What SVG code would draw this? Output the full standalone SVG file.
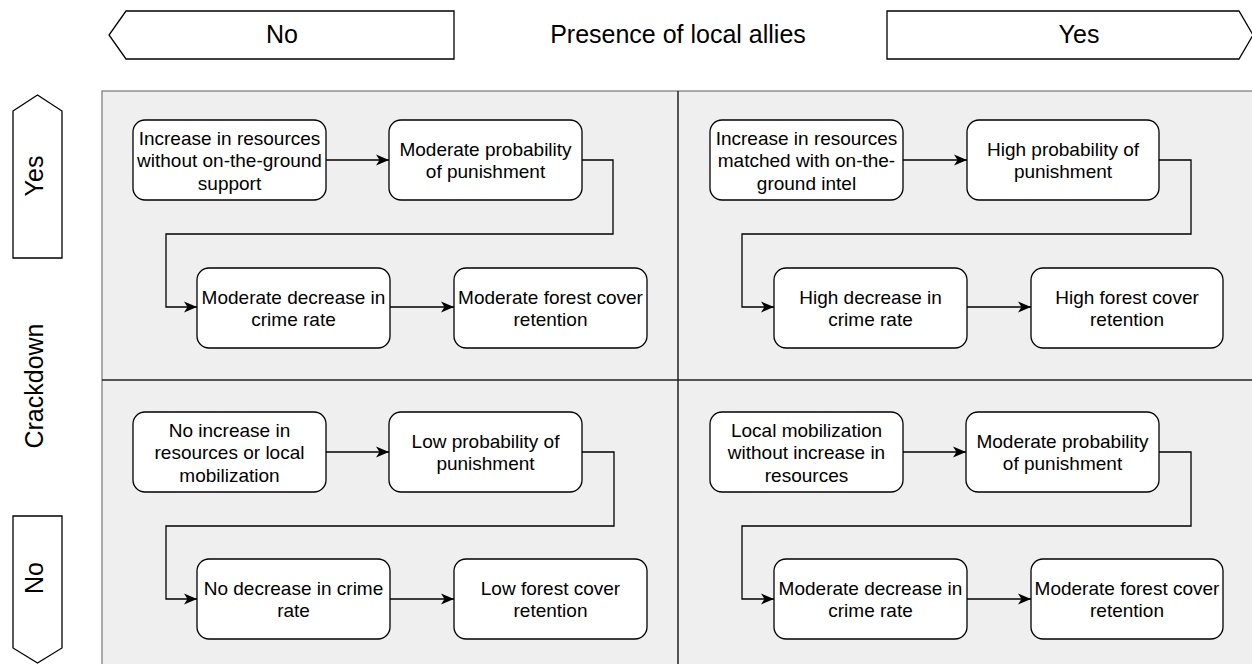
<svg xmlns="http://www.w3.org/2000/svg" width="1252" height="664" viewBox="0 0 1252 664">
<style>
.lbl{font-family:"Liberation Sans",Arial,Helvetica,sans-serif;font-size:25px;fill:#000;text-anchor:middle}
.nt{font-family:"Liberation Sans",Arial,Helvetica,sans-serif;font-size:19px;fill:#000;text-anchor:middle}
.shape{fill:#fff;stroke:#000;stroke-width:1.3}
.node{fill:#fff;stroke:#000;stroke-width:1.3}
.edge{fill:none;stroke:#000;stroke-width:1.3;marker-end:url(#arr)}
.div{stroke:#222;stroke-width:1.5}
</style>
<defs>
<marker id="arr" markerUnits="userSpaceOnUse" markerWidth="16" markerHeight="14" refX="13" refY="6" orient="auto">
<path d="M0,0.5 L13,6 L0,11.5 L3.5,6 Z" fill="#000"/>
</marker>
</defs>
<rect x="102" y="91" width="1160" height="590" fill="#efefef" stroke="#808080" stroke-width="1.3"/>
<line class="div" x1="678" y1="91" x2="678" y2="664"/>
<line class="div" x1="102" y1="380" x2="1252" y2="380"/>

<g id="axis-top-no"><polygon class="shape" points="126,11 454,11 454,59 126,59 109,35"/><text class="lbl" x="282" y="43">No</text></g>
<g id="axis-top-title"><text class="lbl" x="678" y="43">Presence of local allies</text></g>
<g id="axis-top-yes"><polygon class="shape" points="887,11 1239,11 1253,35 1239,59 887,59"/><text class="lbl" x="1079" y="43">Yes</text></g>
<g id="axis-left-yes"><polygon class="shape" points="13,111 37.5,95 62,111 62,258 13,258"/><text class="lbl" transform="translate(43,176) rotate(-90)">Yes</text></g>
<g id="axis-left-title"><text class="lbl" transform="translate(43,386) rotate(-90)">Crackdown</text></g>
<g id="axis-left-no"><polygon class="shape" points="13,516 62,516 62,648 37.5,663 13,648"/><text class="lbl" transform="translate(43,578) rotate(-90)">No</text></g>

<g id="connectors">
<path class="edge" d="M326,160 H389"/>
<path class="edge" d="M582,160 H613 V234 H166 V307 H197"/>
<path class="edge" d="M390,307 H454"/>
<path class="edge" d="M903,160 H967"/>
<path class="edge" d="M1159,160 H1191 V234 H742 V307 H774"/>
<path class="edge" d="M967,307 H1031"/>
<path class="edge" d="M326,452 H389"/>
<path class="edge" d="M582,452 H614 V526 H166 V599 H197"/>
<path class="edge" d="M390,599 H454"/>
<path class="edge" d="M903,452 H966"/>
<path class="edge" d="M1159,452 H1191 V526 H742 V599 H774"/>
<path class="edge" d="M967,599 H1031"/>
</g>

<g id="tl-n1"><rect class="node" x="133" y="120" width="193" height="80" rx="12"/><text class="nt" x="229.5" y="144.5">Increase in resources</text><text class="nt" x="229.5" y="167">without on-the-ground</text><text class="nt" x="229.5" y="189.5">support</text></g>
<g id="tl-n2"><rect class="node" x="389" y="120" width="193" height="80" rx="12"/><text class="nt" x="485.5" y="155.8">Moderate probability</text><text class="nt" x="485.5" y="178.2">of punishment</text></g>
<g id="tl-n3"><rect class="node" x="197" y="268" width="193" height="80" rx="12"/><text class="nt" x="293.5" y="303.8">Moderate decrease in</text><text class="nt" x="293.5" y="326.2">crime rate</text></g>
<g id="tl-n4"><rect class="node" x="454" y="268" width="193" height="80" rx="12"/><text class="nt" x="550.5" y="303.8">Moderate forest cover</text><text class="nt" x="550.5" y="326.2">retention</text></g>

<g id="tr-n1"><rect class="node" x="710" y="120" width="193" height="80" rx="12"/><text class="nt" x="806.5" y="144.5">Increase in resources</text><text class="nt" x="806.5" y="167">matched with on-the-</text><text class="nt" x="806.5" y="189.5">ground intel</text></g>
<g id="tr-n2"><rect class="node" x="967" y="120" width="192" height="80" rx="12"/><text class="nt" x="1063" y="155.8">High probability of</text><text class="nt" x="1063" y="178.2">punishment</text></g>
<g id="tr-n3"><rect class="node" x="774" y="268" width="193" height="80" rx="12"/><text class="nt" x="870.5" y="303.8">High decrease in</text><text class="nt" x="870.5" y="326.2">crime rate</text></g>
<g id="tr-n4"><rect class="node" x="1031" y="268" width="192" height="80" rx="12"/><text class="nt" x="1127" y="303.8">High forest cover</text><text class="nt" x="1127" y="326.2">retention</text></g>

<g id="bl-n1"><rect class="node" x="133" y="412" width="193" height="80" rx="12"/><text class="nt" x="229.5" y="436.5">No increase in</text><text class="nt" x="229.5" y="459">resources or local</text><text class="nt" x="229.5" y="481.5">mobilization</text></g>
<g id="bl-n2"><rect class="node" x="389" y="412" width="193" height="80" rx="12"/><text class="nt" x="485.5" y="447.8">Low probability of</text><text class="nt" x="485.5" y="470.2">punishment</text></g>
<g id="bl-n3"><rect class="node" x="197" y="559" width="193" height="80" rx="12"/><text class="nt" x="293.5" y="594.8">No decrease in crime</text><text class="nt" x="293.5" y="617.2">rate</text></g>
<g id="bl-n4"><rect class="node" x="454" y="559" width="193" height="80" rx="12"/><text class="nt" x="550.5" y="594.8">Low forest cover</text><text class="nt" x="550.5" y="617.2">retention</text></g>

<g id="br-n1"><rect class="node" x="710" y="412" width="193" height="80" rx="12"/><text class="nt" x="806.5" y="436.5">Local mobilization</text><text class="nt" x="806.5" y="459">without increase in</text><text class="nt" x="806.5" y="481.5">resources</text></g>
<g id="br-n2"><rect class="node" x="966" y="412" width="193" height="80" rx="12"/><text class="nt" x="1062.5" y="447.8">Moderate probability</text><text class="nt" x="1062.5" y="470.2">of punishment</text></g>
<g id="br-n3"><rect class="node" x="774" y="559" width="193" height="80" rx="12"/><text class="nt" x="870.5" y="594.8">Moderate decrease in</text><text class="nt" x="870.5" y="617.2">crime rate</text></g>
<g id="br-n4"><rect class="node" x="1031" y="559" width="192" height="80" rx="12"/><text class="nt" x="1127" y="594.8">Moderate forest cover</text><text class="nt" x="1127" y="617.2">retention</text></g>
</svg>
